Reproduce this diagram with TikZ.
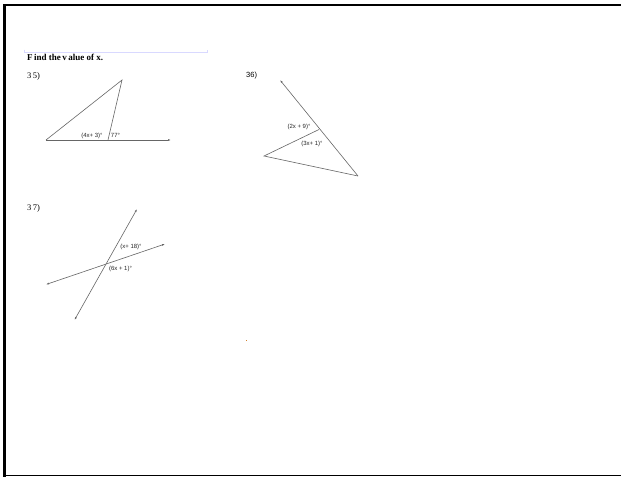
\documentclass[tikz,border=0pt]{standalone}
\usepackage{fontspec}
\setmainfont{Liberation Serif}
\setsansfont{Liberation Sans}
\usetikzlibrary{arrows.meta}

\begin{document}
\begin{tikzpicture}[x=1pt,y=-1pt,
  geo line/.style={draw=black!60, line width=0.6pt},
  ray/.style={geo line, -{Latex[length=3pt,width=2pt]}},
  dbl ray/.style={geo line, {Latex[length=3pt,width=2pt]}-{Latex[length=3pt,width=2pt]}},
  angle label/.style={font=\sffamily\fontsize{6}{7}\selectfont, text=black!85, inner sep=0pt},
  number label/.style={font=\fontsize{8.5}{9}\selectfont, inner sep=0pt, anchor=west}]
  \useasboundingbox (0,0) rectangle (621,477);
  % Frame
  \fill[white] (0,0) rectangle (621,477);
  \draw[line width=2.6pt] (621,5) -- (4.5,5) -- (4.5,477);
  \draw[line width=1.3pt] (3,475.5) -- (621,475.5);
  \draw[blue!15, line width=1pt] (24,49.5) -- (24,52) -- (207,52) -- (207,49.5);
  
  % Title and numbers
  \node[number label, font=\bfseries\fontsize{9}{10}\selectfont] (title) at (27,57.5) {F\,ind the\,v\,alue of x.};
  \node[number label] (n35) at (27,76) {3\,5)};
  \node[number label, font=\sffamily\fontsize{7.5}{8}\selectfont] (n36) at (246,76) {36)};
  \node[number label] (n37) at (27,208) {3\,7)};
  
  % 35)
  \coordinate (A) at (46,140);
  \coordinate (B) at (122,80);
  \coordinate (C) at (108,140);
  \coordinate (D) at (171,140);
  \draw[geo line] (A) -- (B) -- (C);
  \draw[ray] (A) -- (D);
  \node[angle label] (l35a) at (92,135.5) {(4x+ 3)\textdegree};
  \node[angle label] (l35b) at (115.5,135.5) {77\textdegree};
  
  % 36)
  \coordinate (E) at (358,176);
  \coordinate (F) at (280,80);
  \coordinate (G) at (264,156);
  \coordinate (H) at (319,129.5);
  \draw[ray] (E) -- (F);
  \draw[geo line] (E) -- (G) -- (H);
  \node[angle label] (l36a) at (299,126.5) {(2x + 9)\textdegree};
  \node[angle label] (l36b) at (312,143.5) {(3x+ 1)\textdegree};
  
  % 37)
  \coordinate (P) at (137,209);
  \coordinate (Q) at (74.5,320);
  \coordinate (R) at (165,244);
  \coordinate (S) at (46,284.5);
  \draw[dbl ray] (Q) -- (P);
  \draw[dbl ray] (S) -- (R);
  \node[angle label] (l37a) at (131,247) {(x+ 18)\textdegree};
  \node[angle label] (l37b) at (120.5,269) {(6x + 1)\textdegree};
  
  % stray mark
  \fill[brown!70!orange] (245.5,340) rectangle (247,341.2);
\end{tikzpicture}
\end{document}
